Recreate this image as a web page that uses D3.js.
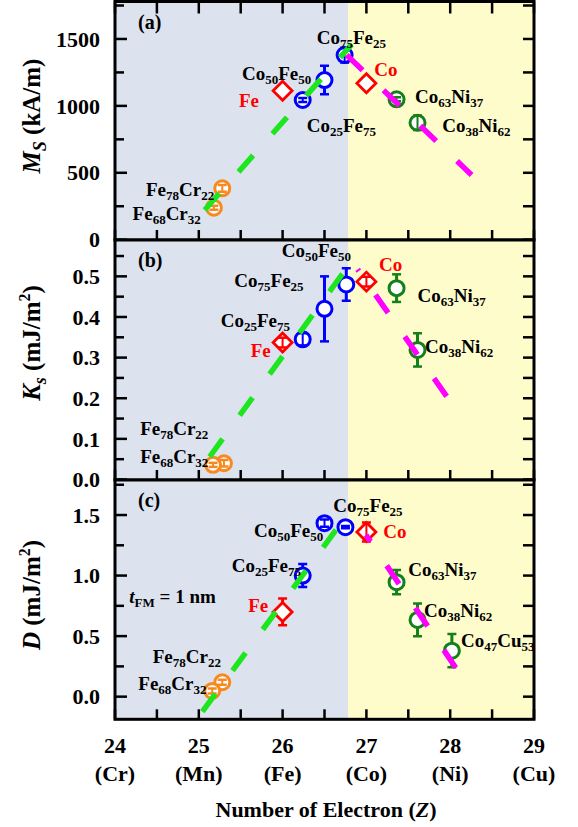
<!DOCTYPE html>
<html>
<head>
<meta charset="utf-8">
<script src="https://cdn.jsdelivr.net/npm/d3@7"></script>
<style>
  body { margin: 0; background: #fff; }
  svg { display: block; font-family: "Liberation Serif", "Times New Roman", serif; font-weight: bold; }
</style>
</head>
<body>
<svg id="chart" width="578" height="827"></svg>
<script>
// ---- data ----
const zTicks = [24, 25, 26, 27, 28, 29];
const zNames = ["(Cr)", "(Mn)", "(Fe)", "(Co)", "(Ni)", "(Cu)"];
const bgSplit = 26.78; // bcc | fcc/hcp shading boundary

// (a) saturation magnetization Ms (kA/m)
const msZ    = [25.28, 25.18, 26.0, 26.24, 26.5, 26.74, 27.0, 27.36, 27.61];
const msVal  = [384, 239, 1113, 1044, 1193, 1380, 1169, 1049, 874];
const msErr  = [25, 15, 0, 15, 107, 55, 0, 15, 55];
const msKind = ["FeCr", "FeCr", "Fe", "CoFe", "CoFe", "CoFe", "Co", "CoNi", "CoNi"];

// (b) interface anisotropy Ks (mJ/m2)
const ksZ    = [25.30, 25.17, 26.0, 26.24, 26.5, 26.76, 27.0, 27.36, 27.61];
const ksVal  = [0.040, 0.036, 0.337, 0.345, 0.420, 0.480, 0.487, 0.471, 0.319];
const ksErr  = [0.008, 0.005, 0.012, 0.015, 0.08, 0.04, 0.012, 0.034, 0.041];
const ksKind = ["FeCr", "FeCr", "Fe", "CoFe", "CoFe", "CoFe", "Co", "CoNi", "CoNi"];

// (c) DMI constant D (mJ/m2)
const dZ    = [25.28, 25.16, 26.0, 26.24, 26.5, 26.75, 27.0, 27.36, 27.61, 28.02];
const dVal  = [0.119, 0.047, 0.70, 1.0, 1.433, 1.40, 1.36, 0.945, 0.634, 0.38];
const dErr  = [0.02, 0.02, 0.11, 0.095, 0.03, 0.01, 0.078, 0.1, 0.135, 0.138];
const dKind = ["FeCr", "FeCr", "Fe", "CoFe", "CoFe", "CoFe", "Co", "CoNi", "CoNi", "CoNi"];

// guide lines [[z, v], [z, v]]
const msGreen = [[25.07, 222], [26.825, 1460]];
const msPink  = [[26.765, 1380], [28.255, 484]];
const ksGreen = [[25.13, 0.056], [26.724, 0.509]];
const ksPink  = [[26.896, 0.517], [27.97, 0.201]];
const dGreen  = [[25.042, -0.124], [26.637, 1.377]];
const dPink   = [[26.995, 1.335], [28.066, 0.239]];

// annotations, {..} = subscript
const msLabels = ["Co{75}Fe{25}", "Co{50}Fe{50}", "Fe", "Co{25}Fe{75}", "Co", "Co{63}Ni{37}", "Co{38}Ni{62}", "Fe{78}Cr{22}", "Fe{68}Cr{32}"];
const msLabZ   = [26.407, 25.516, 25.48, 26.288, 27.094, 27.58, 27.906, 24.37, 24.21];
const msLabV   = [1466, 1190, 989, 806, 1222, 1018, 806, 325, 150];
const msLabRed = [0, 0, 1, 0, 1, 0, 0, 0, 0];

const ksLabels = ["Co{50}Fe{50}", "Co{75}Fe{25}", "Co{25}Fe{75}", "Fe", "Co", "Co{63}Ni{37}", "Co{38}Ni{62}", "Fe{78}Cr{22}", "Fe{68}Cr{32}"];
const ksLabZ   = [25.99, 25.424, 25.261, 25.62, 27.15, 27.61, 27.70, 24.30, 24.30];
const ksLabV   = [0.547, 0.475, 0.376, 0.302, 0.514, 0.438, 0.311, 0.110, 0.040];
const ksLabRed = [0, 0, 0, 1, 1, 0, 0, 0, 0];

const dLabels = ["Co{75}Fe{25}", "Co{50}Fe{50}", "Co{25}Fe{75}", "Fe", "Co", "Co{63}Ni{37}", "Co{38}Ni{62}", "Co{47}Cu{53}", "Fe{78}Cr{22}", "Fe{68}Cr{32}"];
const dLabZ   = [26.605, 25.659, 25.393, 25.59, 27.20, 27.50, 27.687, 28.129, 24.45, 24.278];
const dLabV   = [1.528, 1.321, 1.032, 0.702, 1.308, 0.997, 0.661, 0.413, 0.276, 0.055];
const dLabRed = [0, 0, 0, 1, 1, 0, 0, 0, 0, 0];

// ---- layout ----
const svg = d3.select("#chart");
const xL = 115, xR = 534;
const x = d3.scaleLinear().domain([24, 29]).range([xL, xR]);

const kindStyle = {
  FeCr: { color: "#f7891f", shape: "circle" },
  Fe:   { color: "#ff0000", shape: "diamond" },
  CoFe: { color: "#0000ff", shape: "circle" },
  Co:   { color: "#ff0000", shape: "diamond" },
  CoNi: { color: "#14801a", shape: "circle" }
};

const panels = [
  { tag: "(a)", top: 1.5, bottom: 240, domain: [0, 1780], range: [239.7, 1.5],
    major: 500, minor: 250, nMinor: 8, fmt: d3.format("d"), topTicks: true,
    z: msZ, v: msVal, e: msErr, kind: msKind,
    green: msGreen, pink: msPink, pinkOffset: 0, greenOffset: 0,
    labels: msLabels, labZ: msLabZ, labV: msLabV, labRed: msLabRed,
    title: [["M", "i"], ["S", "isub"], [" (kA/m)", ""]], titleY: 116 },
  { tag: "(b)", top: 240, bottom: 480, domain: [0, 0.587], range: [479.5, 241],
    major: 0.1, minor: 0.05, nMinor: 12, fmt: d3.format(".1f"), topTicks: false,
    z: ksZ, v: ksVal, e: ksErr, kind: ksKind,
    green: ksGreen, pink: ksPink, pinkOffset: 20, greenOffset: 0,
    labels: ksLabels, labZ: ksLabZ, labV: ksLabV, labRed: ksLabRed,
    title: [["K", "i"], ["s", "isub"], [" (mJ/m", ""], ["2", "sup"], [")", ""]], titleY: 343 },
  { tag: "(c)", top: 480, bottom: 719.3, domain: [-0.187, 1.781], range: [719.3, 481],
    major: 0.5, minor: 0.25, nMinor: 8, fmt: d3.format(".1f"), topTicks: false,
    z: dZ, v: dVal, e: dErr, kind: dKind,
    green: dGreen, pink: dPink, pinkOffset: 14, greenOffset: 0,
    labels: dLabels, labZ: dLabZ, labV: dLabV, labRed: dLabRed,
    title: [["D", "i"], [" (mJ/m", ""], ["2", "sup"], [")", ""]], titleY: 595 }
];

const defs = svg.append("defs");
const R = 7.5;

function addLabel(g, str, px, py, color, size, subSize) {
  const t = g.append("text").attr("x", px).attr("y", py)
    .attr("fill", color).style("font-size", size + "px");
  const parts = str.split(/(\{[^}]*\})/).filter(s => s.length);
  let shifted = false;
  parts.forEach(p => {
    if (p[0] === "{") {
      t.append("tspan").text(p.slice(1, -1)).style("font-size", subSize + "px")
        .attr("dy", shifted ? 0 : 4);
      shifted = true;
    } else {
      t.append("tspan").text(p).attr("dy", shifted ? -4 : 0);
      shifted = false;
    }
  });
  return t;
}

panels.forEach((p, pi) => {
  const y = d3.scaleLinear().domain(p.domain).range(p.range);
  const g = svg.append("g");
  const h = p.bottom - p.top;

  // shaded regions
  g.append("rect").attr("x", x(24)).attr("y", p.top).attr("width", x(bgSplit) - x(24))
    .attr("height", h).attr("fill", "#dce3ef");
  g.append("rect").attr("x", x(bgSplit)).attr("y", p.top).attr("width", x(29) - x(bgSplit))
    .attr("height", h).attr("fill", "#fffccc");

  // x ticks (every 0.5)
  const xt = d3.range(0, 11).map(i => 24 + i * 0.5);
  g.selectAll(".xb").data(xt).join("line")
    .attr("x1", d => x(d)).attr("x2", d => x(d))
    .attr("y1", p.bottom).attr("y2", p.bottom - 10)
    .attr("stroke", "#000").attr("stroke-width", 2.5);
  if (p.topTicks) {
    g.selectAll(".xt").data(xt).join("line")
      .attr("x1", d => x(d)).attr("x2", d => x(d))
      .attr("y1", p.top).attr("y2", p.top + 12)
      .attr("stroke", "#000").attr("stroke-width", 2.5);
  }

  // y ticks
  const yt = d3.range(0, p.nMinor).map(i => +(i * p.minor).toFixed(4))
    .filter(d => y(d) > p.top + 4 && y(d) <= p.bottom);
  const isMajor = d => Math.abs(d / p.major - Math.round(d / p.major)) < 1e-6;
  yt.forEach(d => {
    const len = isMajor(d) ? 12 : 9;
    g.append("line").attr("x1", xL).attr("x2", xL + len)
      .attr("y1", y(d)).attr("y2", y(d)).attr("stroke", "#000").attr("stroke-width", 2.5);
    g.append("line").attr("x1", xR).attr("x2", xR - 11)
      .attr("y1", y(d)).attr("y2", y(d)).attr("stroke", "#000").attr("stroke-width", 2.5);
    if (isMajor(d)) {
      g.append("text").attr("x", 100).attr("y", y(d)).attr("dy", "0.35em")
        .attr("text-anchor", "end").style("font-size", "22px").text(p.fmt(d));
    }
  });

  // clipped data layer
  const clipId = "clip" + pi;
  defs.append("clipPath").attr("id", clipId).append("rect")
    .attr("x", xL).attr("y", p.top).attr("width", xR - xL).attr("height", h);
  const dg = g.append("g").attr("clip-path", `url(#${clipId})`);

  // markers + error bars
  p.z.forEach((zv, i) => {
    const st = kindStyle[p.kind[i]];
    const cx = x(zv), cy = y(p.v[i]);
    if (st.shape === "circle") {
      dg.append("circle").attr("cx", cx).attr("cy", cy).attr("r", R)
        .attr("fill", "#fff").attr("stroke", st.color).attr("stroke-width", 3);
    } else {
      const s = 9.5;
      dg.append("path").attr("d", `M${cx},${cy - s}L${cx + s},${cy}L${cx},${cy + s}L${cx - s},${cy}Z`)
        .attr("fill", "#fff").attr("stroke", st.color).attr("stroke-width", 2.8);
    }
    if (p.e[i] > 0) {
      const yTop = y(p.v[i] + p.e[i]), yBot = y(p.v[i] - p.e[i]);
      const gap = st.shape === "circle" ? R : 9.5;
      if (cy - yTop > gap) {
        dg.append("line").attr("x1", cx).attr("x2", cx).attr("y1", cy - gap).attr("y2", yTop)
          .attr("stroke", st.color).attr("stroke-width", 3);
        dg.append("line").attr("x1", cx).attr("x2", cx).attr("y1", cy + gap).attr("y2", yBot)
          .attr("stroke", st.color).attr("stroke-width", 3);
      } else {
        dg.append("line").attr("x1", cx).attr("x2", cx).attr("y1", yTop).attr("y2", yBot)
          .attr("stroke", st.color).attr("stroke-width", 2);
      }
      [yTop, yBot].forEach(yy => {
        dg.append("line").attr("x1", cx - 4.5).attr("x2", cx + 4.5).attr("y1", yy).attr("y2", yy)
          .attr("stroke", st.color).attr("stroke-width", 2.5);
      });
    }
  });

  // guide lines
  const line = d3.line().x(d => x(d[0])).y(d => y(d[1]));
  dg.append("path").attr("d", line(p.green)).attr("fill", "none")
    .attr("stroke", "#1ee61e").attr("stroke-width", 5.5)
    .attr("stroke-dasharray", "22,29").attr("stroke-dashoffset", p.greenOffset);
  dg.append("path").attr("d", line(p.pink)).attr("fill", "none")
    .attr("stroke", "#ff00ff").attr("stroke-width", 5.5)
    .attr("stroke-dasharray", "22,29").attr("stroke-dashoffset", p.pinkOffset);

  // annotations
  p.labels.forEach((s, i) => {
    addLabel(dg, s, x(p.labZ[i]), y(p.labV[i]), p.labRed[i] ? "#ff0000" : "#000", 19, 13);
  });
  dg.append("text").attr("x", xL + 23).attr("y", p.top + 27)
    .style("font-size", "20px").text(p.tag);
  if (pi === 2) {
    const t = dg.append("text").attr("x", x(24.171)).attr("y", y(0.776)).style("font-size", "19px");
    t.append("tspan").text("t").style("font-style", "italic");
    t.append("tspan").text("FM").style("font-size", "13px").attr("dy", 4);
    t.append("tspan").text(" = 1 nm").attr("dy", -4);
  }

  // frame
  g.append("rect").attr("x", xL).attr("y", p.top).attr("width", xR - xL).attr("height", h)
    .attr("fill", "none").attr("stroke", "#000").attr("stroke-width", 3);

  // y title
  const tt = svg.append("text").attr("transform", `translate(40,${p.titleY}) rotate(-90)`)
    .attr("text-anchor", "middle").style("font-size", "25px");
  let off = 0;
  p.title.forEach(([txt, k]) => {
    const ts = tt.append("tspan").text(txt);
    if (k === "i" || k === "isub") ts.style("font-style", "italic");
    let want = 0;
    if (k === "isub") { ts.style("font-size", "18px"); want = 6; }
    if (k === "sup") { ts.style("font-size", "16px"); want = -10; }
    ts.attr("dy", want - off);
    off = want;
  });
});

// x axis labels
const xlab = svg.append("g");
xlab.selectAll(".num").data(zTicks).join("text")
  .attr("x", d => x(d)).attr("y", 753).attr("text-anchor", "middle")
  .style("font-size", "22px").text(d => d);
xlab.selectAll(".el").data(zNames).join("text")
  .attr("x", (d, i) => x(zTicks[i])).attr("y", 781).attr("text-anchor", "middle")
  .style("font-size", "22px").text(d => d);
const xt = xlab.append("text").attr("x", 326).attr("y", 817).attr("text-anchor", "middle")
  .style("font-size", "22px");
xt.append("tspan").text("Number of Electron (");
xt.append("tspan").text("Z").style("font-style", "italic");
xt.append("tspan").text(")");
</script>
</body>
</html>
